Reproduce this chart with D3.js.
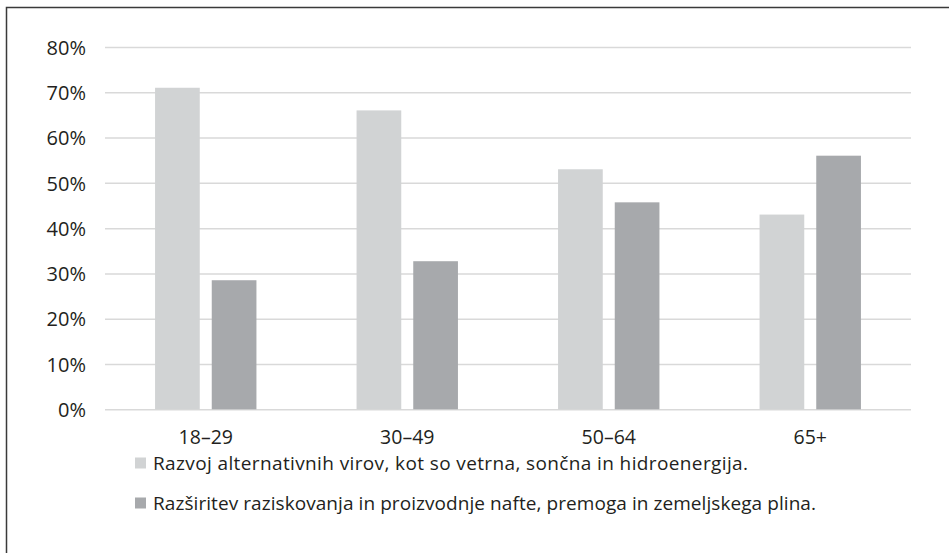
<!DOCTYPE html>
<html><head><meta charset="utf-8">
<script src="https://cdn.jsdelivr.net/npm/d3@7"></script>
<style>body{margin:0;background:#fff;} text{font-family:"Open Sans", "DejaVu Sans", sans-serif; fill:#231f20;}</style>
</head><body>
<svg id="c" width="949" height="553"></svg>
<script>
const categories = ["18–29", "30–49", "50–64", "65+"];
const seriesNames = ["Razvoj alternativnih virov, kot so vetrna, sončna in hidroenergija.",
  "Razširitev raziskovanja in proizvodnje nafte, premoga in zemeljskega plina."];
const alternative = [71, 66, 53, 43];
const fossil = [28.5, 32.7, 45.7, 56];
const yTicks = [0, 10, 20, 30, 40, 50, 60, 70, 80];
const colors = ["#d1d3d4", "#a7a9ac"];

(function () {
const svg = d3.select("#c");
svg.append("rect").attr("x", 6.5).attr("y", 7.5).attr("width", 1000).attr("height", 1000)
  .attr("fill", "none").attr("stroke", "#3a3a3a").attr("stroke-width", 1.5);

const mL = 105, mR = 911, mT = 47, mB = 409.3;
const x0 = d3.scaleBand().domain(categories).range([mL, mR]).paddingInner(0).paddingOuter(0);
const x1 = d3.scaleBand().domain([0, 1]).range([0, x0.bandwidth()]).paddingInner(0.2116).paddingOuter(0.883);
const y = d3.scaleLinear().domain([0, 80]).range([mB, mT]);

const g = svg.append("g");
const yAxis = d3.axisLeft(y).tickValues(yTicks).tickSize(-(mR - mL)).tickFormat(d => d + "%");
const ya = g.append("g").attr("transform", `translate(${mL},0)`).call(yAxis);
ya.select(".domain").remove();
ya.selectAll(".tick line").attr("stroke", "#d9d9d9").attr("stroke-width", 1.5);
ya.selectAll(".tick text").attr("x", -19).attr("dy", "0.36em").attr("font-size", 20).attr("fill", "#231f20").attr("font-family", "Open Sans");

const data = categories.map((c, i) => ({ c, v: [alternative[i], fossil[i]] }));
const grp = g.selectAll(".grp").data(data).enter().append("g").attr("transform", d => `translate(${x0(d.c)},0)`);
grp.selectAll("rect").data(d => d.v.map((v, k) => ({ v, k }))).enter().append("rect")
  .attr("x", d => x1(d.k)).attr("width", x1.bandwidth())
  .attr("y", d => y(d.v)).attr("height", d => y(0) - y(d.v))
  .attr("fill", d => colors[d.k]);

const xAxis = d3.axisBottom(x0).tickSize(0).tickPadding(0);
const xa = g.append("g").attr("transform", `translate(0,${mB})`).call(xAxis);
xa.select(".domain").remove();
xa.selectAll(".tick text").attr("dy", 0).attr("y", 35).attr("font-size", 19.5).attr("fill", "#231f20").attr("font-family", "Open Sans");

const legY = [463, 503];
const legW = [595, 663];
const leg = svg.append("g").selectAll("g").data(seriesNames).enter().append("g")
  .attr("transform", (d, i) => `translate(135,${legY[i]})`);
leg.append("rect").attr("x", 0).attr("y", -5.5).attr("width", 11).attr("height", 11).attr("fill", (d, i) => colors[i]);
leg.append("text").attr("x", 18).attr("y", 7).attr("font-size", 19)
  .attr("textLength", (d, i) => legW[i]).attr("lengthAdjust", "spacing").text(d => d);
})();
</script>
</body></html>
